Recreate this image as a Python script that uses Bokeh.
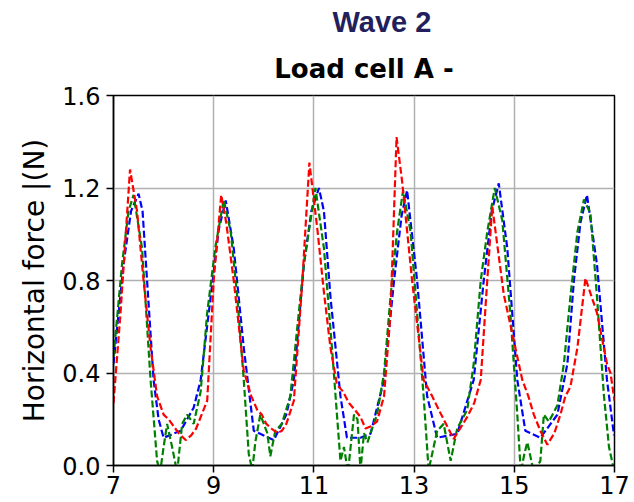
from bokeh.plotting import figure
from bokeh.models import Title, Range1d, FixedTicker, CustomJSTickFormatter
from bokeh.embed import file_html
from bokeh.resources import INLINE

# ---- data ----
x_ticks = [7, 9, 11, 13, 15, 17]
y_ticks = [0.0, 0.4, 0.8, 1.2, 1.6]

blue_t = [7.0, 7.2, 7.35, 7.5, 7.58, 7.67, 7.8, 7.9, 8.0, 8.34, 8.6, 8.74, 8.94, 9.1, 9.24,
          9.4, 9.6, 9.8, 10.2, 10.45, 10.6, 10.8, 10.95, 11.1, 11.2, 11.33, 11.53, 11.66,
          11.93, 12.13, 12.4, 12.6, 12.75, 12.86, 13.06, 13.26, 13.46, 13.86, 14.19, 14.39,
          14.55, 14.69, 14.86, 15.06, 15.22, 15.52, 15.86, 16.06, 16.19, 16.32, 16.45,
          16.65, 16.85, 16.99]
blue_f = [0.44, 0.87, 1.10, 1.175, 1.10, 0.80, 0.37, 0.20, 0.12, 0.15, 0.25, 0.37, 0.73,
          1.02, 1.146, 0.94, 0.51, 0.15, 0.11, 0.22, 0.37, 0.87, 1.10, 1.20, 1.10, 0.73,
          0.30, 0.12, 0.12, 0.137, 0.37, 0.80, 1.08, 1.19, 0.80, 0.30, 0.12, 0.137, 0.37,
          0.80, 1.10, 1.22, 0.94, 0.37, 0.15, 0.12, 0.22, 0.44, 0.80, 1.05, 1.17, 0.87,
          0.37, 0.13]

green_t = [7.0, 7.17, 7.3, 7.4, 7.57, 7.74, 7.87, 7.93, 8.0, 8.07, 8.17, 8.27, 8.37, 8.47,
           8.6, 8.74, 8.87, 9.03, 9.2, 9.34, 9.47, 9.6, 9.7, 9.77, 9.83, 9.93, 10.0, 10.07,
           10.13, 10.23, 10.36, 10.53, 10.66, 10.8, 11.03, 11.2, 11.36, 11.46, 11.53, 11.6,
           11.68, 11.8, 11.87, 11.93, 12.0, 12.07, 12.13, 12.26, 12.4, 12.53, 12.66, 12.78,
           12.93, 13.06, 13.19, 13.29, 13.36, 13.46, 13.59, 13.66, 13.73, 13.86, 14.06,
           14.19, 14.33, 14.46, 14.61, 14.76, 14.92, 15.06, 15.13, 15.2, 15.26, 15.39,
           15.52, 15.59, 15.69, 15.86, 15.99, 16.12, 16.26, 16.39, 16.52, 16.65, 16.79,
           16.89, 16.99]
green_f = [0.47, 0.87, 1.10, 1.17, 0.94, 0.37, 0.02, -0.03, 0.08, 0.18, 0.08, -0.03, 0.18,
           0.22, 0.18, 0.32, 0.66, 0.94, 1.15, 1.01, 0.73, 0.37, 0.05, -0.02, 0.10, 0.22,
           0.18, 0.14, 0.04, 0.15, 0.18, 0.30, 0.58, 0.87, 1.20, 0.94, 0.51, 0.22, 0.02,
           0.08, -0.03, 0.22, 0.20, -0.02, 0.14, 0.10, 0.14, 0.22, 0.40, 0.73, 1.01, 1.19,
           1.01, 0.66, 0.30, -0.02, 0.05, 0.15, 0.18, 0.10, 0.02, 0.16, 0.24, 0.44, 0.80,
           1.01, 1.20, 1.06, 0.66, 0.22, -0.03, 0.05, 0.10, -0.03, 0.02, 0.22, 0.19, 0.26,
           0.44, 0.73, 1.01, 1.15, 1.09, 0.73, 0.30, 0.08, -0.02]

red_t = [7.0, 7.14, 7.33, 7.47, 7.6, 7.74, 7.87, 8.0, 8.1, 8.2, 8.3, 8.44, 8.55, 8.65, 8.87,
         9.0, 9.15, 9.25, 9.4, 9.6, 9.75, 9.87, 9.96, 10.05, 10.15, 10.27, 10.36, 10.45,
         10.6, 10.77, 10.91, 11.07, 11.2, 11.33, 11.46, 11.58, 11.7, 11.82, 11.93, 12.03,
         12.14, 12.26, 12.4, 12.53, 12.65, 12.76, 12.96, 13.19, 13.36, 13.53, 13.66, 13.79,
         13.92, 14.06, 14.2, 14.33, 14.46, 14.56, 14.79, 14.99, 15.16, 15.28, 15.39, 15.52,
         15.66, 15.8, 15.92, 16.02, 16.12, 16.26, 16.42, 16.65, 16.85, 16.92, 17.0]
red_f = [0.27, 0.66, 1.28, 1.10, 0.80, 0.51, 0.30, 0.22, 0.20, 0.17, 0.14, 0.11, 0.13, 0.16,
         0.28, 0.80, 1.17, 1.05, 0.80, 0.41, 0.30, 0.24, 0.22, 0.18, 0.16, 0.14, 0.15, 0.18,
         0.28, 0.80, 1.31, 1.02, 0.75, 0.51, 0.35, 0.32, 0.27, 0.24, 0.21, 0.16, 0.17, 0.19,
         0.30, 0.66, 1.42, 1.23, 0.80, 0.37, 0.30, 0.225, 0.17, 0.115, 0.16, 0.21, 0.27,
         0.37, 0.80, 1.12, 0.74, 0.54, 0.37, 0.30, 0.22, 0.15, 0.09, 0.14, 0.22, 0.30, 0.34,
         0.51, 0.81, 0.66, 0.44, 0.40, 0.28]

p = figure(width=634, height=502, output_backend="svg", toolbar_location=None,
           title=None, x_range=Range1d(7, 17), y_range=Range1d(0, 1.6),
           min_border_left=113, min_border_right=20, min_border_top=20,
           min_border_bottom=37, background_fill_color="white",
           border_fill_color="white")

p.add_layout(Title(text="Load cell A -", text_font="DejaVu Sans", text_font_style="bold",
                   text_font_size="26px", align="center", text_color="black",
                   standoff=23), "above")
p.add_layout(Title(text="Wave 2", text_font="'Liberation Sans Narrow', 'Liberation Sans'",
                   text_font_style="bold", text_font_size="29px", align="left",
                   offset=219, text_color="#231f5c", standoff=6), "above")

for t, f, c in [(blue_t, blue_f, "#0000ff"), (green_t, green_f, "#008000"),
                (red_t, red_f, "#ff0000")]:
    p.line(t, f, line_color=c, line_width=2.2, line_dash="7 3")

p.xaxis.ticker = FixedTicker(ticks=x_ticks)
p.yaxis.ticker = FixedTicker(ticks=y_ticks)
p.yaxis.formatter = CustomJSTickFormatter(code="return tick.toFixed(1);")
for ax in (p.xaxis[0], p.yaxis[0]):
    ax.major_label_text_font = "DejaVu Sans"
    ax.major_label_text_font_size = "24px"
    ax.major_label_text_color = "black"
    ax.major_tick_out = 7
    ax.major_tick_in = 0
    ax.minor_tick_out = 0
    ax.minor_tick_in = 0
    ax.major_tick_line_width = 1.5
    ax.axis_line_width = 1.5
    ax.axis_line_color = "black"
    ax.major_tick_line_color = "black"
p.xaxis.major_label_standoff = 3
p.yaxis.major_label_standoff = 6
p.yaxis.axis_label = "Horizontal force |(N)"
p.yaxis.axis_label_text_font = "DejaVu Sans"
p.yaxis.axis_label_text_font_style = "normal"
p.yaxis.axis_label_text_font_size = "28px"
p.yaxis.axis_label_text_color = "black"
p.yaxis.axis_label_standoff = 8

p.grid.grid_line_color = "#b0b0b0"
p.grid.grid_line_width = 1.5
p.outline_line_color = "black"
p.outline_line_width = 1.5
p.outline_line_alpha = 1.0

open("out.html", "w").write(file_html(p, INLINE))
